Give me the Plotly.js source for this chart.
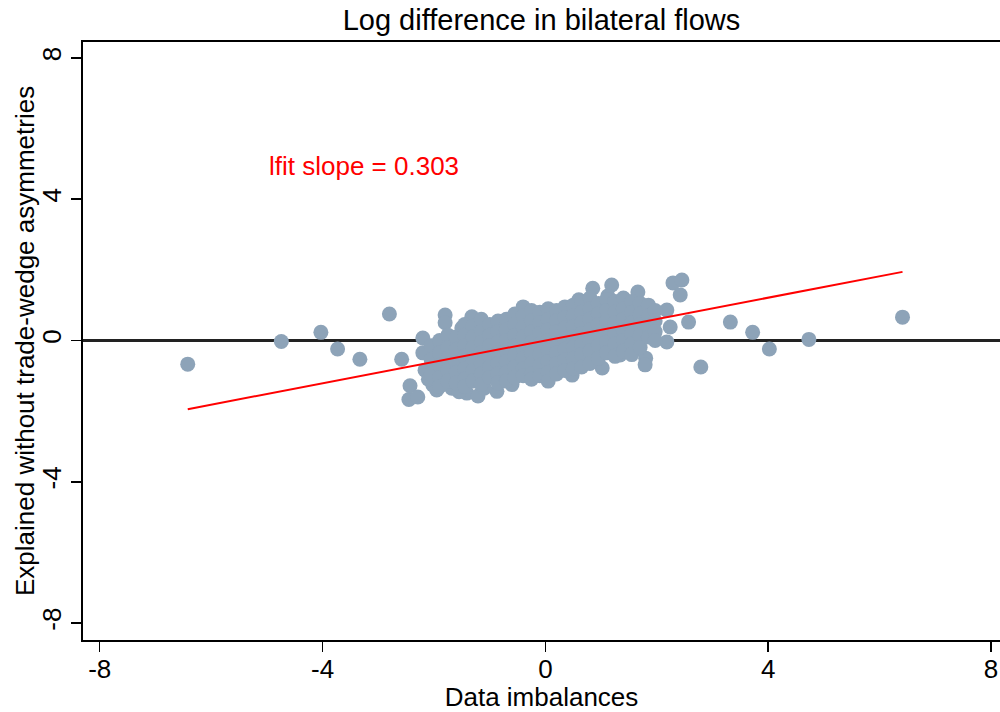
<!DOCTYPE html>
<html>
<head>
<meta charset="utf-8">
<script src="https://cdn.plot.ly/plotly-3.0.1.min.js"></script>
<style>html,body{margin:0;padding:0;background:#fff;}#chart{width:1000px;height:712px;}</style>
</head>
<body>
<div id="chart"></div>
<script>
// Outlying observations (data imbalances, explained difference)
const outlierX = [-6.42, -4.74, -4.03, -3.73, -3.33, -2.80, -2.58, 2.57, 3.32, 3.72, 4.02, 4.73, 2.79, 6.41];
const outlierY = [-0.67, -0.03, 0.23, -0.24, -0.53, 0.75, -0.53, 0.52, 0.52, 0.23, -0.24, 0.03, -0.75, 0.66];

// Fringe observations around the main cloud
const fringeX = [-2.45, -2.43, -2.29, -2.20, -2.20, -2.16, -2.02, -1.80, -1.80, -1.68, -1.50, -1.32, -1.41, -1.21, -0.87, -0.40,
                 0.85, 1.19, 1.66, 2.29, 2.45, 2.42, 2.18, 2.18, 2.24, 1.34, 1.80, 1.79, 1.12, 0.60, 1.02, 0.48,
                 -2.10, -1.95, -1.55, -1.10, -0.60];
const fringeY = [-1.67, -1.28, -1.60, 0.07, -0.35, -0.84, -1.26, 0.72, 0.50, -1.35, 0.35, 0.67, -1.49, -1.57, -1.44, 0.95,
                 1.48, 1.57, 1.37, 1.63, 1.71, 1.29, 0.86, -0.04, 0.38, -0.41, -0.50, -0.69, 1.26, 1.15, -0.78, -0.98,
                 -1.10, -1.40, -1.45, -1.35, -1.25];

// Main cloud observations
const cloudX = [
  -2.05,-2.05,-2.05,
  -1.90,-1.90,-1.90,-1.90,-1.90,
  -1.75,-1.75,-1.75,-1.75,-1.75,
  -1.60,-1.60,-1.60,-1.60,-1.60,
  -1.45,-1.45,-1.45,-1.45,-1.45,-1.45,-1.45,
  -1.30,-1.30,-1.30,-1.30,-1.30,-1.30,
  -1.15,-1.15,-1.15,-1.15,-1.15,-1.15,-1.15,
  -1.00,-1.00,-1.00,-1.00,-1.00,-1.00,
  -0.85,-0.85,-0.85,-0.85,-0.85,-0.85,-0.85,
  -0.70,-0.70,-0.70,-0.70,-0.70,-0.70,-0.70,
  -0.55,-0.55,-0.55,-0.55,-0.55,-0.55,-0.55,
  -0.40,-0.40,-0.40,-0.40,-0.40,-0.40,-0.40,
  -0.25,-0.25,-0.25,-0.25,-0.25,-0.25,-0.25,-0.25,
  -0.10,-0.10,-0.10,-0.10,-0.10,-0.10,-0.10,
  0.05,0.05,0.05,0.05,0.05,0.05,0.05,0.05,
  0.20,0.20,0.20,0.20,0.20,0.20,0.20,
  0.35,0.35,0.35,0.35,0.35,0.35,0.35,
  0.50,0.50,0.50,0.50,0.50,0.50,0.50,
  0.65,0.65,0.65,0.65,0.65,0.65,0.65,
  0.80,0.80,0.80,0.80,0.80,0.80,0.80,
  0.95,0.95,0.95,0.95,0.95,0.95,
  1.10,1.10,1.10,1.10,1.10,1.10,
  1.25,1.25,1.25,1.25,1.25,1.25,
  1.40,1.40,1.40,1.40,1.40,1.40,
  1.55,1.55,1.55,1.55,1.55,1.55,
  1.70,1.70,1.70,1.70,1.70,
  1.85,1.85,1.85,1.85,
  1.97,1.97,1.97,1.97
];
const cloudY = [
  -0.15,-0.55,-0.95,
  0.00,-0.35,-0.70,-1.05,-1.30,
  0.15,-0.20,-0.50,-0.85,-1.15,
  0.10,-0.25,-0.60,-0.90,-1.20,
  0.45,0.15,-0.15,-0.45,-0.80,-1.10,-1.30,
  0.40,0.10,-0.20,-0.50,-0.85,-1.15,
  0.60,0.25,-0.05,-0.35,-0.65,-0.95,-1.25,
  0.45,0.15,-0.15,-0.45,-0.75,-1.05,
  0.55,0.25,-0.05,-0.35,-0.65,-0.95,-1.20,
  0.60,0.30,0.00,-0.30,-0.60,-0.90,-1.15,
  0.75,0.45,0.15,-0.15,-0.45,-0.75,-1.05,
  0.70,0.40,0.10,-0.20,-0.50,-0.80,-1.00,
  0.85,0.55,0.25,-0.05,-0.35,-0.65,-0.95,-1.10,
  0.80,0.50,0.20,-0.10,-0.40,-0.70,-1.00,
  0.90,0.60,0.30,0.00,-0.30,-0.60,-0.90,-1.15,
  0.85,0.55,0.25,-0.05,-0.35,-0.65,-0.95,
  0.95,0.65,0.35,0.05,-0.25,-0.55,-0.85,
  1.00,0.70,0.40,0.10,-0.20,-0.50,-0.80,
  1.10,0.80,0.50,0.20,-0.10,-0.40,-0.75,
  1.20,0.90,0.60,0.30,0.00,-0.30,-0.65,
  1.05,0.75,0.45,0.15,-0.15,-0.50,
  1.15,0.85,0.55,0.25,-0.05,-0.35,
  1.10,0.80,0.50,0.20,-0.10,-0.45,
  1.20,0.90,0.60,0.30,0.00,-0.30,
  1.10,0.80,0.50,0.20,-0.10,-0.40,
  1.05,0.75,0.45,0.15,-0.20,
  1.00,0.70,0.40,0.10,
  0.85,0.55,0.25,0.00
];

// Linear fit parameters
const fitSlope = 0.303;
const fitIntercept = 0.0;

const tickVals = [-8, -4, 0, 4, 8];
const tickText = ['-8', '-4', '0', '4', '8'];

const allX = outlierX.concat(fringeX, cloudX);
const allY = outlierY.concat(fringeY, cloudY);
const xMin = Math.min(...allX), xMax = Math.max(...allX);
const fitX = [xMin, xMax];
const fitY = fitX.map(v => fitIntercept + fitSlope * v);

const font = 'Liberation Sans, Arial, Helvetica, sans-serif';
const dotColor = 'rgb(141,163,184)';

const traces = [
  {x: allX, y: allY, type: 'scatter', mode: 'markers',
   marker: {color: dotColor, size: 15, line: {width: 0}}, showlegend: false, hoverinfo: 'x+y'},
  {x: fitX, y: fitY, type: 'scatter', mode: 'lines',
   line: {color: 'rgb(255,0,0)', width: 2}, showlegend: false}
];

const layout = {
  width: 1000, height: 712,
  margin: {l: 83, r: 0, t: 42, b: 72},
  paper_bgcolor: '#fff', plot_bgcolor: '#fff',
  font: {family: font, color: '#000', size: 26},
  title: {text: 'Log difference in bilateral flows', font: {family: font, size: 29, color: '#000'},
          x: 0.5, xref: 'paper', xanchor: 'center', y: 0.972, yref: 'container', yanchor: 'middle'},
  xaxis: {range: [-8.3, 8.16], tickvals: tickVals, ticktext: tickText, showgrid: false, zeroline: false,
          showline: true, linecolor: '#000', linewidth: 2, mirror: true, ticks: 'outside', ticklen: 10,
          tickwidth: 1.5, tickcolor: '#000', tickfont: {size: 26, family: font}, ticklabelstandoff: -5,
          title: {text: 'Data imbalances', font: {size: 26, family: font}, standoff: 0}},
  yaxis: {range: [-8.48, 8.45], tickvals: tickVals, ticktext: tickText, showgrid: false,
          zeroline: true, zerolinecolor: '#222', zerolinewidth: 2.5,
          showline: true, linecolor: '#000', linewidth: 2, ticks: 'outside', ticklen: 10,
          tickwidth: 1.5, tickcolor: '#000', tickangle: -90, tickfont: {size: 26, family: font}},
  annotations: [
    {x: -5.0, y: 4.94, xref: 'x', yref: 'y', text: 'lfit slope = 0.303', showarrow: false,
     xanchor: 'left', yanchor: 'middle', font: {color: 'rgb(255,0,0)', size: 26, family: font}},
    {x: 0, y: 0.5, xref: 'paper', yref: 'paper', xshift: -58, text: 'Explained without trade-wedge asymmetries',
     textangle: -90, showarrow: false, xanchor: 'center', yanchor: 'middle', font: {color: '#000', size: 26, family: font}}
  ]
};

Plotly.newPlot('chart', traces, layout, {staticPlot: true, displayModeBar: false});
</script>
</body>
</html>
